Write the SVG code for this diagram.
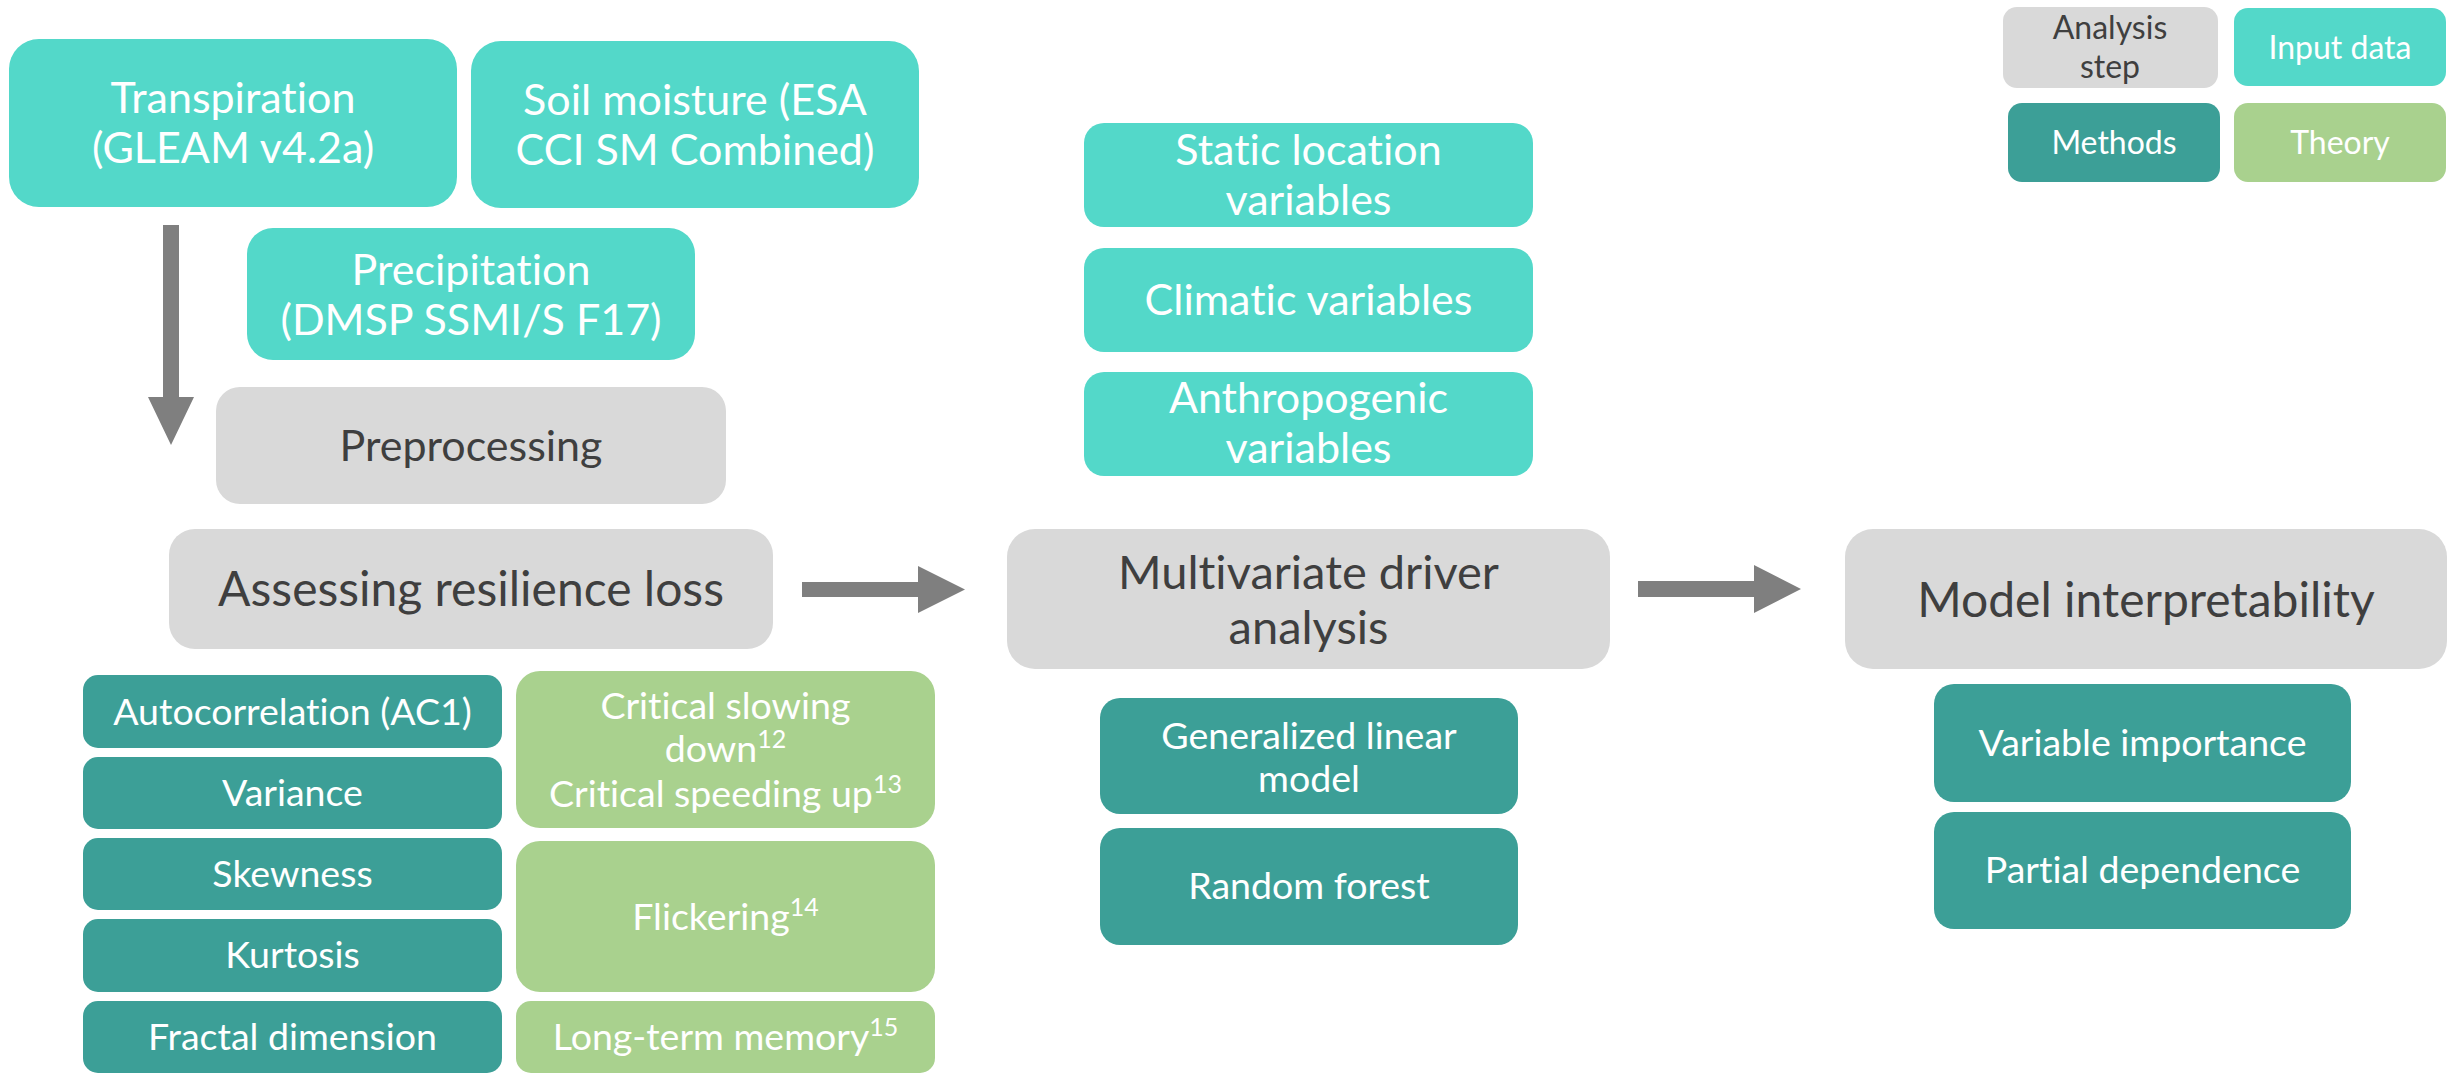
<svg xmlns="http://www.w3.org/2000/svg" width="2458" height="1081" viewBox="0 0 2458 1081">
<style>
text{font-family:Lato,"Noto Sans","Liberation Sans",sans-serif;text-anchor:middle;font-variant-ligatures:none;font-feature-settings:"liga" 0}
.inp{fill:#53D8C9}
.meth{fill:#3C9F97}
.theo{fill:#A9D18E}
.step{fill:#D9D9D9}
.w{fill:#FFFFFF}
.d{fill:#3F3F3F}
.arrow{fill:#7F7F7F}
.f42{font-size:43px}
.f36{font-size:37.5px}
.f32{font-size:32px}
.sup{font-size:25px}
</style>
<rect width="2458" height="1081" fill="#FFFFFF"/>

<g id="connectors">
  <polygon class="arrow" points="163,225 179,225 179,397 194,397 171,445 148,397 163,397"/>
  <polygon class="arrow" points="802,582 918,582 918,566 965,589.5 918,613 918,597 802,597"/>
  <polygon class="arrow" points="1638,581 1754,581 1754,565 1801,589 1754,613 1754,597 1638,597"/>
</g>

<g id="legend-analysis-step"><rect class="step" x="2003" y="7" width="215" height="81" rx="14"/>
  <text class="d f32" x="2110" y="39">Analysis</text><text class="d f32" x="2110" y="78">step</text></g>
<g id="legend-input-data"><rect class="inp" x="2234" y="8" width="212" height="78" rx="14"/>
  <text class="w f32" x="2340" y="59">Input data</text></g>
<g id="legend-methods"><rect class="meth" x="2008" y="103" width="212" height="79" rx="14"/>
  <text class="w f32" x="2114" y="154">Methods</text></g>
<g id="legend-theory"><rect class="theo" x="2234" y="103" width="212" height="79" rx="14"/>
  <text class="w f32" x="2340" y="154">Theory</text></g>

<g id="transpiration"><rect class="inp" x="9" y="39" width="448" height="168" rx="30"/>
  <text class="w f42" x="233" y="113">Transpiration</text><text class="w f42" x="233" y="163">(GLEAM v4.2a)</text></g>
<g id="soil-moisture"><rect class="inp" x="471" y="41" width="448" height="167" rx="30"/>
  <text class="w f42" x="695" y="115">Soil moisture (ESA</text><text class="w f42" x="695" y="165">CCI SM Combined)</text></g>
<g id="precipitation"><rect class="inp" x="247" y="228" width="448" height="132" rx="26"/>
  <text class="w f42" x="471" y="285">Precipitation</text><text class="w f42" x="471" y="335">(DMSP SSMI/S F17)</text></g>
<g id="preprocessing"><rect class="step" x="216" y="387" width="510" height="117" rx="24"/>
  <text class="d f42" x="471" y="461">Preprocessing</text></g>

<g id="assessing-resilience-loss"><rect class="step" x="169" y="529" width="604" height="120" rx="26"/>
  <text class="d" style="font-size:48px" x="471" y="606">Assessing resilience loss</text></g>

<g id="autocorrelation"><rect class="meth" x="83" y="675" width="419" height="73" rx="15"/>
  <text class="w f36" x="292.5" y="725">Autocorrelation (AC1)</text></g>
<g id="variance"><rect class="meth" x="83" y="757" width="419" height="72" rx="15"/>
  <text class="w f36" x="292.5" y="806">Variance</text></g>
<g id="skewness"><rect class="meth" x="83" y="838" width="419" height="72" rx="15"/>
  <text class="w f36" x="292.5" y="887">Skewness</text></g>
<g id="kurtosis"><rect class="meth" x="83" y="919" width="419" height="73" rx="15"/>
  <text class="w f36" x="292.5" y="968">Kurtosis</text></g>
<g id="fractal-dimension"><rect class="meth" x="83" y="1001" width="419" height="72" rx="15"/>
  <text class="w f36" x="292.5" y="1050">Fractal dimension</text></g>

<g id="critical-slowing"><rect class="theo" x="516" y="671" width="419" height="157" rx="24"/>
  <text class="w f36" x="725.5" y="719">Critical slowing</text>
  <text class="w f36" x="725.5" y="762">down<tspan class="sup" dy="-14">12</tspan></text>
  <text class="w f36" x="725.5" y="807">Critical speeding up<tspan class="sup" dy="-14">13</tspan></text></g>
<g id="flickering"><rect class="theo" x="516" y="841" width="419" height="151" rx="24"/>
  <text class="w f36" x="725.5" y="930">Flickering<tspan class="sup" dy="-14">14</tspan></text></g>
<g id="long-term-memory"><rect class="theo" x="516" y="1001" width="419" height="72" rx="15"/>
  <text class="w f36" x="725.5" y="1050">Long-term memory<tspan class="sup" dy="-14">15</tspan></text></g>

<g id="static-location"><rect class="inp" x="1084" y="123" width="449" height="104" rx="20"/>
  <text class="w f42" x="1308.5" y="165">Static location</text><text class="w f42" x="1308.5" y="215">variables</text></g>
<g id="climatic"><rect class="inp" x="1084" y="248" width="449" height="104" rx="20"/>
  <text class="w f42" x="1308.5" y="315">Climatic variables</text></g>
<g id="anthropogenic"><rect class="inp" x="1084" y="372" width="449" height="104" rx="20"/>
  <text class="w f42" x="1308.5" y="413">Anthropogenic</text><text class="w f42" x="1308.5" y="463">variables</text></g>

<g id="multivariate-driver-analysis"><rect class="step" x="1007" y="529" width="603" height="140" rx="28"/>
  <text class="d" style="font-size:47px" x="1308.5" y="589">Multivariate driver</text><text class="d" style="font-size:47px" x="1308.5" y="644">analysis</text></g>

<g id="glm"><rect class="meth" x="1100" y="698" width="418" height="116" rx="20"/>
  <text class="w f36" x="1309" y="749">Generalized linear</text><text class="w f36" x="1309" y="792">model</text></g>
<g id="random-forest"><rect class="meth" x="1100" y="828" width="418" height="117" rx="20"/>
  <text class="w f36" x="1309" y="899">Random forest</text></g>

<g id="model-interpretability"><rect class="step" x="1845" y="529" width="602" height="140" rx="28"/>
  <text class="d" style="font-size:48px" x="2146" y="617">Model interpretability</text></g>

<g id="variable-importance"><rect class="meth" x="1934" y="684" width="417" height="118" rx="20"/>
  <text class="w f36" x="2142.5" y="756">Variable importance</text></g>
<g id="partial-dependence"><rect class="meth" x="1934" y="812" width="417" height="117" rx="20"/>
  <text class="w f36" x="2142.5" y="883">Partial dependence</text></g>
</svg>
